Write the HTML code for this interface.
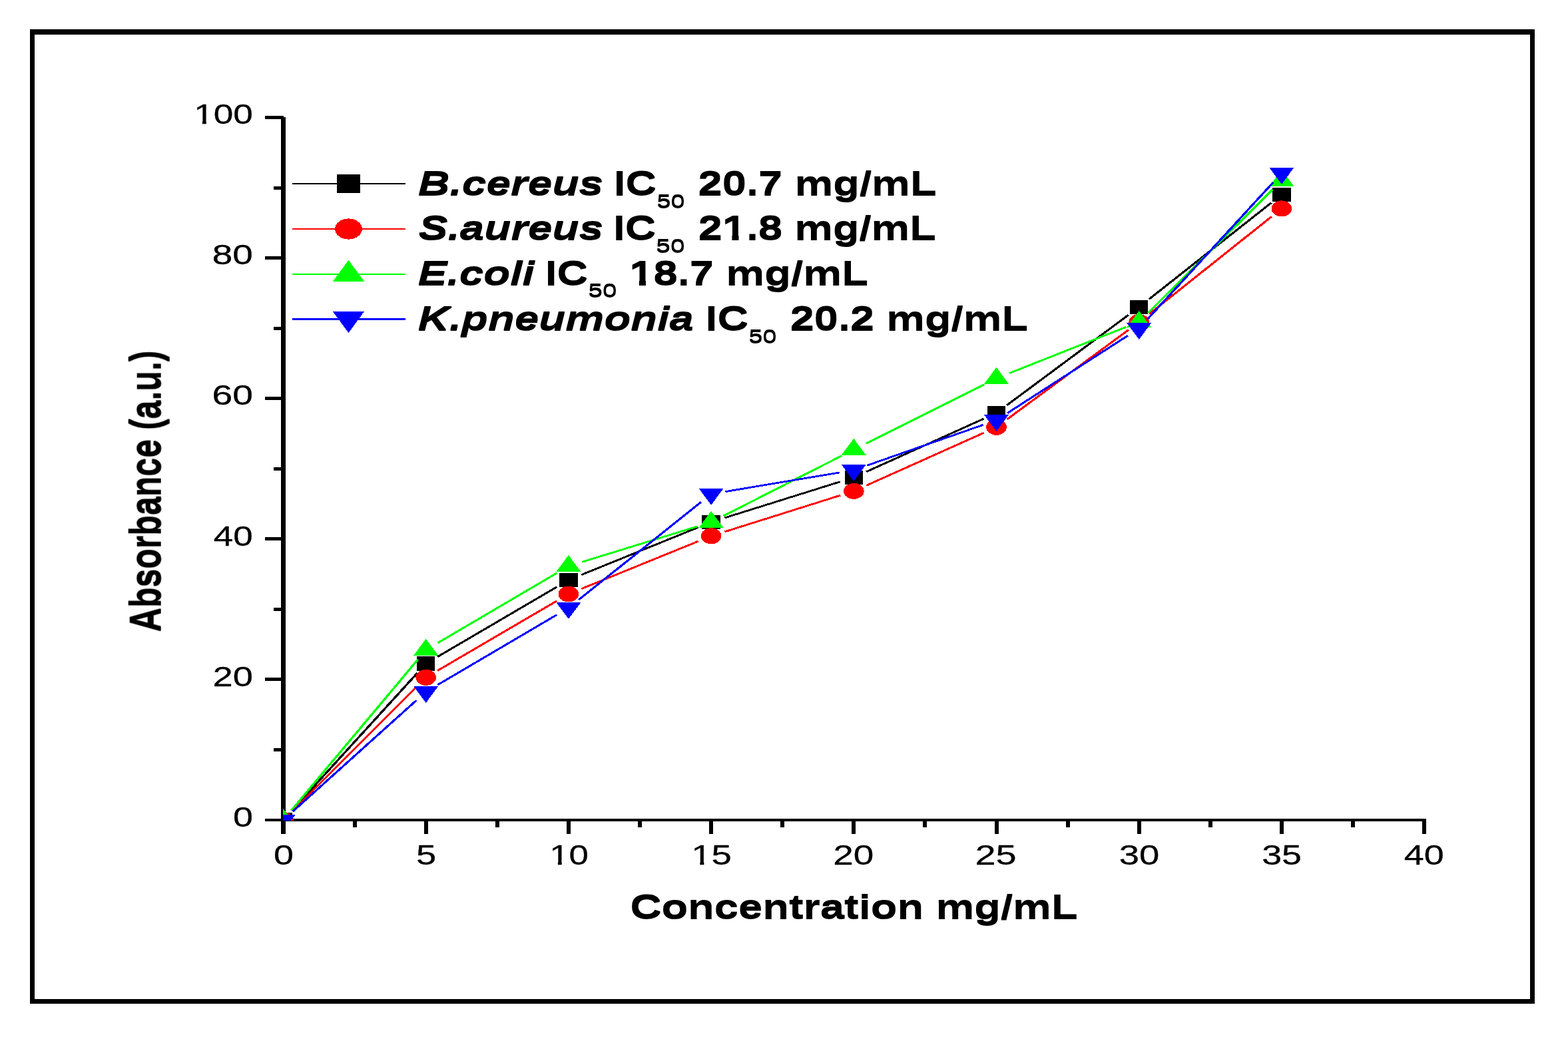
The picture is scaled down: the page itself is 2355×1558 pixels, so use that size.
<!DOCTYPE html>
<html><head><meta charset="utf-8"><title>Absorbance vs Concentration</title>
<style>html,body{margin:0;padding:0;background:#fff;overflow:hidden}svg{display:block}</style>
</head><body>
<svg width="2355" height="1558" viewBox="0 0 2355 1558">
<rect width="2355" height="1558" fill="#fff"/>
<defs><clipPath id="pc"><rect x="425" y="0" width="1900" height="1233"/></clipPath><filter id="dv" x="-2%" y="-20%" width="104%" height="140%"><feMorphology operator="dilate" radius="0 1"/></filter></defs>
<g shape-rendering="crispEdges">
<rect x="45" y="44" width="2260" height="8" fill="#000"/>
<rect x="45" y="1501" width="2260" height="7" fill="#000"/>
<rect x="45" y="44" width="7" height="1464" fill="#000"/>
<rect x="2298" y="44" width="7" height="1464" fill="#000"/>
<rect x="422" y="176" width="7" height="1077" fill="#000"/>
<rect x="422" y="1230" width="1720" height="4" fill="#000"/>
<rect x="398" y="1230" width="28" height="4" fill="#000"/>
<rect x="411" y="1123.95" width="15" height="5" fill="#000"/>
<rect x="398" y="1018.4" width="28" height="5" fill="#000"/>
<rect x="411" y="912.85" width="15" height="5" fill="#000"/>
<rect x="398" y="807.3" width="28" height="5" fill="#000"/>
<rect x="411" y="701.75" width="15" height="5" fill="#000"/>
<rect x="398" y="596.2" width="28" height="5" fill="#000"/>
<rect x="411" y="490.65" width="15" height="5" fill="#000"/>
<rect x="398" y="385.1" width="28" height="5" fill="#000"/>
<rect x="411" y="279.55" width="15" height="5" fill="#000"/>
<rect x="398" y="174" width="28" height="5" fill="#000"/>
<rect x="422.5" y="1231" width="6" height="22" fill="#000"/>
<rect x="529.6" y="1231" width="6" height="12" fill="#000"/>
<rect x="636.7" y="1231" width="6" height="22" fill="#000"/>
<rect x="743.8" y="1231" width="6" height="12" fill="#000"/>
<rect x="850.9" y="1231" width="6" height="22" fill="#000"/>
<rect x="958" y="1231" width="6" height="12" fill="#000"/>
<rect x="1065.1" y="1231" width="6" height="22" fill="#000"/>
<rect x="1172.2" y="1231" width="6" height="12" fill="#000"/>
<rect x="1279.3" y="1231" width="6" height="22" fill="#000"/>
<rect x="1386.4" y="1231" width="6" height="12" fill="#000"/>
<rect x="1493.5" y="1231" width="6" height="22" fill="#000"/>
<rect x="1600.6" y="1231" width="6" height="12" fill="#000"/>
<rect x="1707.7" y="1231" width="6" height="22" fill="#000"/>
<rect x="1814.8" y="1231" width="6" height="12" fill="#000"/>
<rect x="1921.9" y="1231" width="6" height="22" fill="#000"/>
<rect x="2029" y="1231" width="6" height="12" fill="#000"/>
<rect x="2136.1" y="1231" width="6" height="22" fill="#000"/>
</g>
<g font-family='"Liberation Sans", Arial, Helvetica, sans-serif'><text transform="translate(350.03 1241.7) scale(1.2431 1)" font-size="43.4" stroke="#000" stroke-width="0.3" stroke-linejoin="round">0</text>
<text transform="translate(319.47 1030.6) scale(1.2504 1)" font-size="43.4" stroke="#000" stroke-width="0.3" stroke-linejoin="round">20</text>
<text transform="translate(320.86 819.5) scale(1.2208 1)" font-size="43.4" stroke="#000" stroke-width="0.3" stroke-linejoin="round">40</text>
<text transform="translate(318.43 608.4) scale(1.2727 1)" font-size="43.4" stroke="#000" stroke-width="0.3" stroke-linejoin="round">60</text>
<text transform="translate(318.72 397.3) scale(1.2666 1)" font-size="43.4" stroke="#000" stroke-width="0.3" stroke-linejoin="round">80</text>
<clipPath id="f1_5"><path clip-rule="evenodd" d="M-50 -200H3000V200H-50ZM1.31 -4.84H10.46V3.5H1.31ZM15.2 -4.84H24.02V3.5H15.2Z"/></clipPath>
<text transform="translate(291.13 186.2) scale(1.2254 1)" font-size="43.4" stroke="#000" stroke-width="0.3" stroke-linejoin="round" clip-path="url(#f1_5)">100</text>
<text transform="translate(411.03 1298.7) scale(1.2431 1)" font-size="43.4" stroke="#000" stroke-width="0.3" stroke-linejoin="round">0</text>
<text transform="translate(625.01 1298.7) scale(1.2527 1)" font-size="43.4" stroke="#000" stroke-width="0.3" stroke-linejoin="round">5</text>
<clipPath id="f1_8"><path clip-rule="evenodd" d="M-50 -200H3000V200H-50ZM1.31 -4.84H10.46V3.5H1.31ZM15.2 -4.84H24.02V3.5H15.2Z"/></clipPath>
<text transform="translate(825.16 1298.7) scale(1.2187 1)" font-size="43.4" stroke="#000" stroke-width="0.3" stroke-linejoin="round" clip-path="url(#f1_8)">10</text>
<clipPath id="f1_9"><path clip-rule="evenodd" d="M-50 -200H3000V200H-50ZM1.31 -4.84H10.46V3.5H1.31ZM15.2 -4.84H24.02V3.5H15.2Z"/></clipPath>
<text transform="translate(1038.2 1298.7) scale(1.2578 1)" font-size="43.4" stroke="#000" stroke-width="0.3" stroke-linejoin="round" clip-path="url(#f1_9)">15</text>
<text transform="translate(1251.24 1298.7) scale(1.2660 1)" font-size="43.4" stroke="#000" stroke-width="0.3" stroke-linejoin="round">20</text>
<text transform="translate(1464.5 1298.7) scale(1.2879 1)" font-size="43.4" stroke="#000" stroke-width="0.3" stroke-linejoin="round">25</text>
<text transform="translate(1680.81 1298.7) scale(1.2539 1)" font-size="43.4" stroke="#000" stroke-width="0.3" stroke-linejoin="round">30</text>
<text transform="translate(1895.14 1298.7) scale(1.2377 1)" font-size="43.4" stroke="#000" stroke-width="0.3" stroke-linejoin="round">35</text>
<text transform="translate(2108.84 1298.7) scale(1.2426 1)" font-size="43.4" stroke="#000" stroke-width="0.3" stroke-linejoin="round">40</text>
<text transform="translate(946.4 1380.3) scale(1.2937 1)" font-size="50.3" font-weight="bold" filter="url(#dv)">Concentration mg/mL</text></g>
<text transform="translate(240.7 949.25) rotate(-90) scale(1 1.28)" font-family='"Liberation Sans", Arial, Helvetica, sans-serif' font-size="50.06" font-weight="bold" filter="url(#dv)">Absorbance (a.u.)</text>
<g transform="scale(1.29 1)" shape-rendering="crispEdges">
<rect x="340.31" y="274.9" width="131.78" height="2.2" fill="#000000"/>
<rect x="392.26" y="262" width="27.1" height="28" fill="#000000"/>
<rect x="340.31" y="342.9" width="131.78" height="2.2" fill="#ff0000"/>
<ellipse cx="405.81" cy="344" rx="15.8" ry="15.6" fill="#ff0000"/>
<rect x="340.31" y="410.9" width="131.78" height="2.2" fill="#00ff00"/>
<polygon points="405.81,390.67 424.01,422.67 387.61,422.67" fill="#00ff00"/>
<rect x="340.31" y="478" width="131.78" height="3" fill="#0000ff"/>
<polygon points="387.61,468.13 424.01,468.13 405.81,500.13" fill="#0000ff"/>
</g>
<g font-family='"Liberation Sans", Arial, Helvetica, sans-serif'><text transform="scale(1.3 1)" font-size="50" font-weight="bold" filter="url(#dv)"><tspan x="483.06" y="293.3" textLength="214.07" lengthAdjust="spacingAndGlyphs" font-style="italic">B.cereus</tspan> <tspan x="709.1" y="293.3" textLength="49.3" lengthAdjust="spacingAndGlyphs">IC</tspan><tspan x="758.84" y="311.7" textLength="32.32" lengthAdjust="spacingAndGlyphs" font-weight="normal" font-size="26.8">50</tspan> <tspan x="806.63" y="293.3" textLength="275.51" lengthAdjust="spacingAndGlyphs">20.7 mg/mL</tspan></text>
<clipPath id="lg1"><path clip-rule="evenodd" d="M0 0H2400V1600H0ZM835.65 353.6H845.71V363.8H835.65ZM853.46 353.6H862.89V363.8H853.46Z"/></clipPath>
<text transform="scale(1.3 1)" font-size="50" font-weight="bold" filter="url(#dv)" clip-path="url(#lg1)"><tspan x="483.7" y="360.3" textLength="213.41" lengthAdjust="spacingAndGlyphs" font-style="italic">S.aureus</tspan> <tspan x="708.41" y="360.3" textLength="49.3" lengthAdjust="spacingAndGlyphs">IC</tspan><tspan x="757.96" y="378.7" textLength="33.23" lengthAdjust="spacingAndGlyphs" font-weight="normal" font-size="26.8">50</tspan> <tspan x="806.71" y="360.3" textLength="274.88" lengthAdjust="spacingAndGlyphs">21.8 mg/mL</tspan></text>
<clipPath id="lg2"><path clip-rule="evenodd" d="M0 0H2400V1600H0ZM728.24 421.4H738.34V431.6H728.24ZM746.13 421.4H755.59V431.6H746.13Z"/></clipPath>
<text transform="scale(1.3 1)" font-size="50" font-weight="bold" filter="url(#dv)" clip-path="url(#lg2)"><tspan x="482.84" y="428.1" textLength="134.59" lengthAdjust="spacingAndGlyphs" font-style="italic">E.coli</tspan> <tspan x="629.79" y="428.1" textLength="49.38" lengthAdjust="spacingAndGlyphs">IC</tspan><tspan x="679.58" y="446.5" textLength="33.07" lengthAdjust="spacingAndGlyphs" font-weight="normal" font-size="26.8">50</tspan> <tspan x="727.09" y="428.1" textLength="275.98" lengthAdjust="spacingAndGlyphs">18.7 mg/mL</tspan></text>
<text transform="scale(1.3 1)" font-size="50" font-weight="bold" filter="url(#dv)"><tspan x="482.84" y="496.3" textLength="318.59" lengthAdjust="spacingAndGlyphs" font-style="italic">K.pneumonia</tspan> <tspan x="815.09" y="496.3" textLength="49.47" lengthAdjust="spacingAndGlyphs">IC</tspan><tspan x="864.99" y="514.7" textLength="32.24" lengthAdjust="spacingAndGlyphs" font-weight="normal" font-size="26.8">50</tspan> <tspan x="912.87" y="496.3" textLength="274.88" lengthAdjust="spacingAndGlyphs">20.2 mg/mL</tspan></text></g>
<g clip-path="url(#pc)" shape-rendering="crispEdges"><g transform="scale(1.29 1)">
<path d="M339.66 1218.12L486.08 1010.88M509.45 986.75L648.38 881.75M676.99 863.6L812.93 792.3M843.75 778.03L978.27 723.67M1008.72 708.74L1145.39 629.06M1172.35 608.74L1313.85 473.16M1338.04 449.27L1480.26 304.53" stroke="#000000" stroke-width="2.8" fill="none"/>
<rect x="319.22" y="1221.4" width="21.24" height="21.2" fill="#000000"/>
<rect x="485.27" y="986.4" width="21.24" height="21.2" fill="#000000"/>
<rect x="651.32" y="860.9" width="21.24" height="21.2" fill="#000000"/>
<rect x="817.36" y="773.8" width="21.24" height="21.2" fill="#000000"/>
<rect x="983.41" y="706.7" width="21.24" height="21.2" fill="#000000"/>
<rect x="1149.46" y="609.9" width="21.24" height="21.2" fill="#000000"/>
<rect x="1315.5" y="450.8" width="21.24" height="21.2" fill="#000000"/>
<rect x="1481.55" y="281.8" width="21.24" height="21.2" fill="#000000"/>
<path d="M340.26 1218.56L485.48 1031.24M509.46 1007.56L648.37 902.74M676.99 884.6L812.93 813.2M843.74 798.91L978.28 744.29M1008.74 729.38L1145.36 650.32M1172.4 630.09L1313.8 495.71M1337.98 471.82L1480.31 325.58" stroke="#ff0000" stroke-width="2.8" fill="none"/>
<ellipse cx="329.84" cy="1232" rx="11.9" ry="12" fill="#ff0000"/>
<ellipse cx="495.89" cy="1017.8" rx="11.9" ry="12" fill="#ff0000"/>
<ellipse cx="661.94" cy="892.5" rx="11.9" ry="12" fill="#ff0000"/>
<ellipse cx="827.98" cy="805.3" rx="11.9" ry="12" fill="#ff0000"/>
<ellipse cx="994.03" cy="737.9" rx="11.9" ry="12" fill="#ff0000"/>
<ellipse cx="1160.08" cy="641.8" rx="11.9" ry="12" fill="#ff0000"/>
<ellipse cx="1326.12" cy="484" rx="11.9" ry="12" fill="#ff0000"/>
<ellipse cx="1492.17" cy="313.4" rx="11.9" ry="12" fill="#ff0000"/>
<path d="M339.11 1217.74L486.63 990.66M509.44 966.13L648.39 860.87M677.73 844.31L812.19 790.79M842.2 775.17L979.82 684.83M1008.32 666.29L1145.79 577.61M1175.22 560.67L1310.98 491.33M1336.6 470.21L1481.69 284.89" stroke="#00ff00" stroke-width="2.8" fill="none"/>
<polygon points="329.84,1215.33 344.19,1240.33 315.49,1240.33" fill="#00ff00"/>
<polygon points="495.89,959.73 510.24,984.73 481.54,984.73" fill="#00ff00"/>
<polygon points="661.94,833.93 676.29,858.93 647.59,858.93" fill="#00ff00"/>
<polygon points="827.98,767.83 842.33,792.83 813.63,792.83" fill="#00ff00"/>
<polygon points="994.03,658.83 1008.38,683.83 979.68,683.83" fill="#00ff00"/>
<polygon points="1160.08,551.73 1174.43,576.73 1145.73,576.73" fill="#00ff00"/>
<polygon points="1326.12,466.93 1340.47,491.93 1311.77,491.93" fill="#00ff00"/>
<polygon points="1492.17,254.83 1506.52,279.83 1477.82,279.83" fill="#00ff00"/>
<path d="M340.94 1219.12L484.79 1052.18M509.43 1029.02L648.4 923.58M673.78 901.1L816.15 754.4M844.6 738.61L977.41 709.89M1009.52 699.3L1144.58 638.3M1173.16 620.44L1313.05 504.26M1335.98 479.55L1482.31 274.05" stroke="#0000ff" stroke-width="2.8" fill="none"/>
<polygon points="315.49,1223.67 344.19,1223.67 329.84,1248.67" fill="#0000ff"/>
<polygon points="481.54,1030.97 510.24,1030.97 495.89,1055.97" fill="#0000ff"/>
<polygon points="647.59,904.97 676.29,904.97 661.94,929.97" fill="#0000ff"/>
<polygon points="813.63,733.87 842.33,733.87 827.98,758.87" fill="#0000ff"/>
<polygon points="979.68,697.97 1008.38,697.97 994.03,722.97" fill="#0000ff"/>
<polygon points="1145.73,622.97 1174.43,622.97 1160.08,647.97" fill="#0000ff"/>
<polygon points="1311.77,485.07 1340.47,485.07 1326.12,510.07" fill="#0000ff"/>
<polygon points="1477.82,251.87 1506.52,251.87 1492.17,276.87" fill="#0000ff"/>
</g></g>
</svg>
</body></html>
